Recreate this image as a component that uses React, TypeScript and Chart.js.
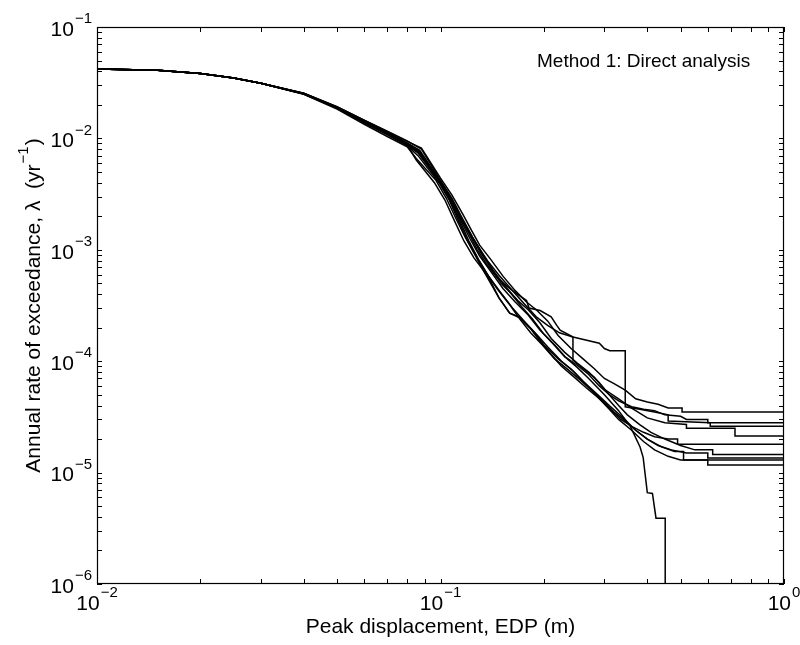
import React, { useEffect, useRef } from "react";
import { Chart, registerables } from "chart.js";
Chart.register(...registerables);

// ---- data ----
const xHead = [0.01, 0.015, 0.02, 0.025, 0.03];
const yHead = [0.042, 0.0408, 0.0382, 0.0348, 0.0312];

const x1 = [0.04, 0.05, 0.06, 0.07, 0.08, 0.088, 0.1, 0.108, 0.116, 0.123, 0.13, 0.14, 0.152, 0.165, 0.178, 0.19, 0.205, 0.22, 0.24, 0.26, 0.28, 0.3, 0.32, 0.345, 0.37, 0.4, 0.43, 0.46, 0.505, 0.505, 1];
const y1 = [0.0254, 0.0192, 0.0145, 0.0115, 0.0094, 0.0082, 0.0044, 0.0031, 0.0021, 0.0015, 0.0011, 8.2e-4, 5.8e-4, 4.3e-4, 3.4e-4, 2.9e-4, 2.3e-4, 1.7e-4, 1.3e-4, 1.05e-4, 8.6e-5, 7.0e-5, 6.3e-5, 5.5e-5, 4.6e-5, 4.3e-5, 4.1e-5, 3.8e-5, 3.8e-5, 3.5e-5, 3.5e-5];

const x2 = [0.04, 0.05, 0.06, 0.07, 0.08, 0.087, 0.1, 0.107, 0.115, 0.122, 0.13, 0.138, 0.15, 0.16, 0.172, 0.185, 0.2, 0.215, 0.23, 0.25, 0.27, 0.29, 0.31, 0.33, 0.36, 0.39, 0.42, 0.45, 0.5, 0.52, 0.6, 0.6, 1];
const y2 = [0.0252, 0.019, 0.0143, 0.0112, 0.009, 0.0076, 0.0041, 0.0029, 0.0019, 0.0014, 9.8e-4, 7.4e-4, 5.0e-4, 4.1e-4, 3.1e-4, 2.4e-4, 1.75e-4, 1.4e-4, 1.1e-4, 9.2e-5, 7.6e-5, 6.0e-5, 5.0e-5, 4.4e-5, 3.9e-5, 3.7e-5, 3.6e-5, 3.3e-5, 3.2e-5, 3.0e-5, 3.0e-5, 2.8e-5, 2.8e-5];

const x3 = [0.04, 0.05, 0.06, 0.07, 0.08, 0.086, 0.1, 0.107, 0.114, 0.121, 0.128, 0.136, 0.145, 0.155, 0.162, 0.178, 0.181, 0.195, 0.21, 0.218, 0.223, 0.243, 0.29, 0.3, 0.311, 0.345, 0.345, 0.38, 0.42, 0.46, 0.46, 0.61, 0.61, 1];
const y3 = [0.025, 0.0186, 0.0138, 0.0108, 0.0087, 0.0074, 0.004, 0.0029, 0.002, 0.0014, 0.001, 7.5e-4, 5.8e-4, 4.8e-4, 4.3e-4, 3.5e-4, 3.0e-4, 2.85e-4, 2.5e-4, 2.1e-4, 1.9e-4, 1.65e-4, 1.45e-4, 1.3e-4, 1.24e-4, 1.24e-4, 3.9e-5, 3.7e-5, 3.5e-5, 3.3e-5, 2.9e-5, 2.8e-5, 2.6e-5, 2.6e-5];

const x4 = [0.04, 0.05, 0.06, 0.07, 0.08, 0.087, 0.098, 0.106, 0.113, 0.12, 0.128, 0.137, 0.148, 0.16, 0.175, 0.19, 0.205, 0.222, 0.243, 0.243, 0.26, 0.28, 0.3, 0.33, 0.36, 0.4, 0.45, 0.52, 0.52, 0.72, 0.72, 1];
const y4 = [0.0253, 0.0191, 0.0144, 0.0113, 0.0091, 0.0078, 0.0045, 0.0031, 0.0021, 0.0015, 0.0011, 8.0e-4, 5.9e-4, 4.5e-4, 3.3e-4, 2.5e-4, 2.1e-4, 1.8e-4, 1.65e-4, 1.02e-4, 8.6e-5, 7.2e-5, 5.6e-5, 4.6e-5, 3.8e-5, 3.1e-5, 2.8e-5, 2.7e-5, 2.5e-5, 2.5e-5, 2.13e-5, 2.13e-5];

const x5 = [0.04, 0.05, 0.06, 0.07, 0.08, 0.085, 0.097, 0.104, 0.111, 0.118, 0.126, 0.133, 0.14, 0.148, 0.159, 0.17, 0.182, 0.195, 0.21, 0.225, 0.245, 0.265, 0.29, 0.31, 0.335, 0.36, 0.39, 0.42, 0.46, 0.49, 0.49, 1];
const y5 = [0.0249, 0.0183, 0.0134, 0.0104, 0.0084, 0.0066, 0.0042, 0.0029, 0.0019, 0.0013, 9.0e-4, 6.6e-4, 5.0e-4, 3.7e-4, 2.7e-4, 2.5e-4, 2.0e-4, 1.5e-4, 1.15e-4, 9.0e-5, 7.2e-5, 5.8e-5, 4.6e-5, 3.8e-5, 3.0e-5, 2.6e-5, 2.3e-5, 2.1e-5, 2.0e-5, 2.0e-5, 1.8e-5, 1.8e-5];

const x6 = [0.04, 0.05, 0.06, 0.07, 0.08, 0.088, 0.1, 0.108, 0.116, 0.124, 0.132, 0.142, 0.155, 0.168, 0.18, 0.195, 0.21, 0.23, 0.25, 0.27, 0.29, 0.31, 0.33, 0.35, 0.38, 0.41, 0.45, 0.5, 0.55, 0.62, 0.62, 1];
const y6 = [0.0255, 0.0193, 0.0146, 0.0116, 0.0095, 0.008, 0.0042, 0.0029, 0.0019, 0.0013, 9.4e-4, 6.6e-4, 4.6e-4, 3.5e-4, 2.9e-4, 2.2e-4, 1.6e-4, 1.2e-4, 9.6e-5, 8.0e-5, 6.4e-5, 5.0e-5, 4.0e-5, 3.3e-5, 2.7e-5, 2.3e-5, 2.0e-5, 1.75e-5, 1.6e-5, 1.6e-5, 1.45e-5, 1.45e-5];

const x7 = [0.04, 0.05, 0.06, 0.07, 0.08, 0.086, 0.099, 0.106, 0.113, 0.12, 0.128, 0.136, 0.146, 0.158, 0.17, 0.183, 0.198, 0.215, 0.235, 0.255, 0.275, 0.3, 0.32, 0.345, 0.37, 0.4, 0.43, 0.47, 0.52, 0.6, 0.6, 1];
const y7 = [0.025, 0.0187, 0.0139, 0.0108, 0.0086, 0.007, 0.004, 0.0028, 0.0018, 0.0012, 8.4e-4, 6.2e-4, 4.5e-4, 3.3e-4, 2.4e-4, 1.8e-4, 1.4e-4, 1.05e-4, 8.4e-5, 6.8e-5, 5.5e-5, 4.3e-5, 3.5e-5, 2.9e-5, 2.4e-5, 2.0e-5, 1.75e-5, 1.6e-5, 1.5e-5, 1.5e-5, 1.35e-5, 1.35e-5];

const x8 = [0.04, 0.05, 0.06, 0.07, 0.08, 0.085, 0.096, 0.103, 0.11, 0.117, 0.125, 0.133, 0.14, 0.148, 0.159, 0.17, 0.185, 0.2, 0.22, 0.24, 0.26, 0.285, 0.31, 0.34, 0.37, 0.4, 0.44, 0.48, 0.51, 0.51, 1];
const y8 = [0.0251, 0.0188, 0.0141, 0.011, 0.0087, 0.0064, 0.004, 0.0028, 0.0018, 0.0012, 8.5e-4, 6.6e-4, 5.2e-4, 3.7e-4, 2.7e-4, 2.45e-4, 1.9e-4, 1.4e-4, 1.05e-4, 8.5e-5, 6.6e-5, 5.1e-5, 4.0e-5, 3.1e-5, 2.4e-5, 2.0e-5, 1.7e-5, 1.55e-5, 1.55e-5, 1.3e-5, 1.3e-5];

const x9 = [0.04, 0.05, 0.06, 0.07, 0.08, 0.087, 0.1, 0.107, 0.114, 0.121, 0.129, 0.138, 0.15, 0.162, 0.175, 0.19, 0.205, 0.225, 0.245, 0.265, 0.29, 0.31, 0.33, 0.36, 0.39, 0.42, 0.46, 0.5, 0.6, 0.6, 1];
const y9 = [0.0252, 0.0189, 0.0142, 0.0111, 0.0089, 0.0073, 0.0039, 0.0027, 0.0018, 0.0012, 8.2e-4, 5.8e-4, 4.1e-4, 3.0e-4, 2.3e-4, 1.75e-4, 1.35e-4, 1.0e-4, 8.0e-5, 6.2e-5, 4.6e-5, 3.7e-5, 3.0e-5, 2.4e-5, 1.9e-5, 1.6e-5, 1.4e-5, 1.3e-5, 1.3e-5, 1.17e-5, 1.17e-5];

const x10 = [0.04, 0.05, 0.06, 0.07, 0.08, 0.087, 0.1, 0.107, 0.115, 0.122, 0.13, 0.14, 0.152, 0.165, 0.18, 0.195, 0.212, 0.23, 0.25, 0.27, 0.3, 0.33, 0.357, 0.381, 0.389, 0.4, 0.414, 0.424, 0.445, 0.451, 0.451];
const y10 = [0.0253, 0.019, 0.0143, 0.0112, 0.009, 0.0075, 0.004, 0.0028, 0.0018, 0.00125, 8.8e-4, 6.4e-4, 4.5e-4, 3.4e-4, 2.6e-4, 1.9e-4, 1.45e-4, 1.1e-4, 8.8e-5, 7.0e-5, 5.0e-5, 3.6e-5, 2.6e-5, 1.7e-5, 1.37e-5, 6.6e-6, 6.5e-6, 3.9e-6, 3.9e-6, 3.9e-6, 1e-7];

const curvesX = [x1, x2, x3, x4, x5, x6, x7, x8, x9, x10];
const curvesY = [y1, y2, y3, y4, y5, y6, y7, y8, y9, y10];

const xTickExponents = [-2, -1, 0];
const yTickExponents = [-6, -5, -4, -3, -2, -1];
const xTitle = "Peak displacement, EDP (m)";
const yTitleMain = "Annual rate of exceedance, \u03BB  (yr";
const yTitleSup = "\u22121";
const yTitleEnd = ")";
const annotation = "Method 1: Direct analysis";

const FONT = '"Liberation Sans", Arial, Helvetica, sans-serif';

function expStr(e: number) {
  return e < 0 ? "\u2212" + Math.abs(e) : String(e);
}

function drawPow(ctx: CanvasRenderingContext2D, e: number, x: number, y: number, align: "center" | "right") {
  ctx.font = `21px ${FONT}`;
  const wb = ctx.measureText("10").width;
  ctx.font = `15px ${FONT}`;
  const s = expStr(e);
  const we = ctx.measureText(s).width;
  const total = wb + we + 1;
  const sx = align === "center" ? x - total / 2 : x - total;
  ctx.textAlign = "left";
  ctx.textBaseline = "middle";
  ctx.font = `21px ${FONT}`;
  ctx.fillText("10", sx, y);
  ctx.font = `15px ${FONT}`;
  ctx.fillText(s, sx + wb + 1, y - 11);
}

const matlabAxes = {
  id: "matlabAxes",
  afterDraw(chart: any) {
    const ctx: CanvasRenderingContext2D = chart.ctx;
    const xs = chart.scales.x;
    const ys = chart.scales.y;
    const { left, right, top, bottom } = chart.chartArea;
    ctx.save();
    ctx.strokeStyle = "#000";
    ctx.fillStyle = "#000";
    ctx.lineWidth = 1;
    const tl = 5;
    for (let e = xTickExponents[0]; e <= xTickExponents[xTickExponents.length - 1]; e++) {
      for (let m = 1; m <= 9; m++) {
        const v = m * Math.pow(10, e);
        if (v < xs.min * 0.999 || v > xs.max * 1.001) continue;
        const px = Math.round(xs.getPixelForValue(v)) + 0.5;
        ctx.beginPath();
        ctx.moveTo(px, bottom);
        ctx.lineTo(px, bottom - tl);
        ctx.moveTo(px, top);
        ctx.lineTo(px, top + tl);
        ctx.stroke();
      }
    }
    for (let e = yTickExponents[0]; e <= yTickExponents[yTickExponents.length - 1]; e++) {
      for (let m = 1; m <= 9; m++) {
        const v = m * Math.pow(10, e);
        if (v < ys.min * 0.999 || v > ys.max * 1.001) continue;
        const py = Math.round(ys.getPixelForValue(v)) + 0.5;
        ctx.beginPath();
        ctx.moveTo(left, py);
        ctx.lineTo(left + tl, py);
        ctx.moveTo(right, py);
        ctx.lineTo(right - tl, py);
        ctx.stroke();
      }
    }
    ctx.lineWidth = 1.2;
    ctx.strokeRect(Math.round(left) + 0.5, Math.round(top) + 0.5, Math.round(right - left) - 1, Math.round(bottom - top) - 1);

    for (const e of xTickExponents) {
      const px = xs.getPixelForValue(Math.pow(10, e));
      drawPow(ctx, e, px, bottom + 20, "center");
    }
    for (const e of yTickExponents) {
      const py = ys.getPixelForValue(Math.pow(10, e));
      drawPow(ctx, e, left - 5, py + 3, "right");
    }

    ctx.font = `21px ${FONT}`;
    ctx.textAlign = "center";
    ctx.textBaseline = "middle";
    ctx.fillText(xTitle, (left + right) / 2, bottom + 43);

    ctx.save();
    ctx.translate(34, (top + bottom) / 2);
    ctx.rotate(-Math.PI / 2);
    ctx.font = `21px ${FONT}`;
    const w1 = ctx.measureText(yTitleMain).width;
    const w3 = ctx.measureText(yTitleEnd).width;
    ctx.font = `15px ${FONT}`;
    const w2 = ctx.measureText(yTitleSup).width;
    const tot = w1 + w2 + w3 + 2;
    let sx = -tot / 2;
    ctx.textAlign = "left";
    ctx.textBaseline = "middle";
    ctx.font = `21px ${FONT}`;
    ctx.fillText(yTitleMain, sx, 0);
    sx += w1 + 1;
    ctx.font = `15px ${FONT}`;
    ctx.fillText(yTitleSup, sx, -10);
    sx += w2 + 1;
    ctx.font = `21px ${FONT}`;
    ctx.fillText(yTitleEnd, sx, 0);
    ctx.restore();

    ctx.font = `19px ${FONT}`;
    ctx.textAlign = "left";
    ctx.textBaseline = "alphabetic";
    ctx.fillText(annotation, 537, 67);
    ctx.restore();
  },
};

export default function App() {
  const ref = useRef<HTMLCanvasElement>(null);
  useEffect(() => {
    if (!ref.current) return;
    const datasets = curvesX.map((xsArr, i) => {
      const ysArr = curvesY[i];
      const pts = xHead.map((x, j) => ({ x, y: yHead[j] })).concat(xsArr.map((x, j) => ({ x, y: ysArr[j] })));
      return {
        label: `Record ${i + 1}`,
        data: pts,
        borderColor: "#000",
        backgroundColor: "#000",
        borderWidth: 1.5,
        pointRadius: 0,
        tension: 0,
        fill: false,
      };
    });
    const chart = new Chart(ref.current, {
      type: "line",
      data: { datasets },
      options: {
        animation: false,
        responsive: false,
        maintainAspectRatio: false,
        layout: { padding: { left: 97, top: 27, right: 16, bottom: 61 } },
        plugins: { legend: { display: false }, tooltip: { enabled: false }, title: { display: false } },
        scales: {
          x: {
            type: "logarithmic",
            min: 0.01,
            max: 1,
            grid: { display: false, drawTicks: false },
            border: { display: false },
            ticks: { display: false },
          },
          y: {
            type: "logarithmic",
            min: 1e-6,
            max: 0.1,
            grid: { display: false, drawTicks: false },
            border: { display: false },
            ticks: { display: false },
          },
        },
      },
      plugins: [matlabAxes],
    });
    return () => chart.destroy();
  }, []);
  return (
    <canvas
      ref={ref}
      width={800}
      height={645}
      style={{ position: "absolute", left: 0, top: 0, width: 800, height: 645, background: "#fff" }}
    />
  );
}
